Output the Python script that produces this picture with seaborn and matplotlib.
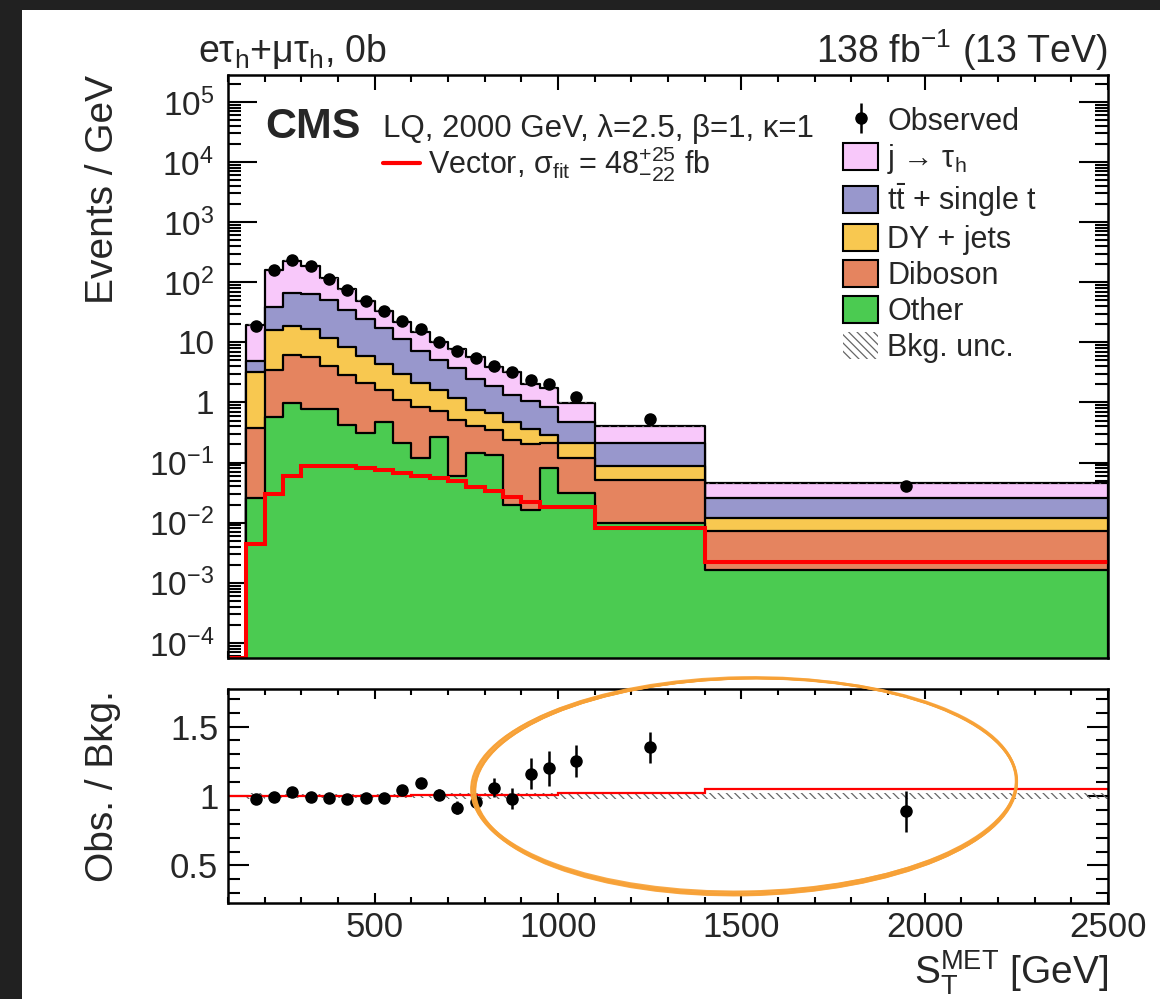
import numpy as np
import pandas as pd
import matplotlib
matplotlib.use("Agg")
import matplotlib.pyplot as plt
import seaborn as sns
from matplotlib.patches import Patch, Ellipse, Rectangle
from matplotlib.ticker import (FixedLocator, FixedFormatter, MultipleLocator,
                               LogLocator, NullFormatter)

# ---------------------------------------------------------------- data
# S_T^MET binning [GeV]
bin_edges = [100, 150, 200, 250, 300, 350, 400, 450, 500, 550, 600, 650,
             700, 750, 800, 850, 900, 950, 1000, 1100, 1400, 2500]

# background yields, events / GeV
other = [0, 0.026, 0.58, 0.98, 0.78, 0.78, 0.42, 0.31, 0.48, 0.21, 0.118,
         0.27, 0.059, 0.145, 0.135, 0.020, 0.016, 0.081, 0.031, 0.010, 0.0016]
diboson = [0, 0.354, 2.92, 5.22, 5.02, 3.22, 2.48, 1.79, 1.12, 0.89, 0.73,
           0.45, 0.451, 0.255, 0.215, 0.22, 0.184, 0.13, 0.086, 0.042, 0.0056]
dy_jets = [0, 2.82, 12.5, 12.5, 10.8, 7.7, 5.3, 3.9, 2.8, 1.9, 1.25,
           0.9, 0.66, 0.36, 0.31, 0.24, 0.16, 0.08, 0.093, 0.035, 0.0048]
ttbar = [0, 1.6, 22, 47.3, 47.4, 39.3, 26.8, 18, 12.6, 8.5, 5.2,
         3.48, 2.53, 1.74, 1.19, 0.87, 0.69, 0.56, 0.27, 0.123, 0.014]
jet_fake = [0, 14.6, 123, 162, 123, 66, 41.5, 25.6, 16.4, 10.6, 7.8,
            5.1, 4.0, 3.2, 1.99, 1.87, 1.01, 0.86, 0.50, 0.19, 0.019]

# relative background uncertainty
bkg_unc = [0, 0.02, 0.015, 0.015, 0.015, 0.015, 0.015, 0.015, 0.015, 0.015,
           0.015, 0.015, 0.02, 0.02, 0.02, 0.02, 0.02, 0.02, 0.02, 0.02, 0.02]

# observed data, events / GeV
observed = [np.nan, 19.0, 160, 235, 185, 115, 75, 49, 33, 23, 16.5, 10.3,
            7.05, 5.46, 4.07, 3.16, 2.39, 2.05, 1.23, 0.54, 0.040]
# statistical error on Obs./Bkg.
ratio_err = [np.nan, 0.025, 0.012, 0.012, 0.012, 0.015, 0.018, 0.02, 0.025,
             0.03, 0.035, 0.04, 0.045, 0.05, 0.07, 0.075, 0.11, 0.125,
             0.115, 0.11, 0.15]

# vector LQ signal (2000 GeV), events / GeV
signal = [0, 0.0044, 0.030, 0.060, 0.088, 0.088, 0.088, 0.082, 0.074, 0.066,
          0.060, 0.056, 0.050, 0.039, 0.033, 0.027, 0.022, 0.018, 0.018,
          0.0081, 0.0022]

process_labels = ["Other", "Diboson", "DY + jets",
                  r"$\mathrm{t\bar{t}}$ + single t", r"j → $\mathrm{τ_h}$"]
process_colors = ["#4bcb51", "#e5845f", "#f8c850", "#9897cc", "#f8c8fa"]

# ---------------------------------------------------------------- style
sns.set_theme(style="ticks")
plt.rcParams["font.family"] = ["Liberation Sans", "DejaVu Sans"]
plt.rcParams.update({
    "mathtext.fontset": "custom",
    "mathtext.rm": "Liberation Sans",
    "mathtext.it": "Liberation Sans:italic",
    "mathtext.bf": "Liberation Sans:bold",
    "axes.linewidth": 1.8,
    "axes.edgecolor": "black",
    "hatch.color": "#666666",
    "hatch.linewidth": 0.9,
})

W, H = 1160, 999
fig = plt.figure(figsize=(W / 100, H / 100), dpi=100)
fig.patch.set_facecolor("white")


def px_box(x0, y0, x1, y1):
    return [x0 / W, 1 - y1 / H, (x1 - x0) / W, (y1 - y0) / H]


ax = fig.add_axes(px_box(228, 75, 1108, 658))
rax = fig.add_axes(px_box(228, 689, 1108, 903))

edges = np.array(bin_edges, dtype=float)
centers = 0.5 * (edges[:-1] + edges[1:])
stack = np.cumsum(np.array([other, diboson, dy_jets, ttbar, jet_fake]), axis=0)
total = stack[-1]
ymin, ymax = 5.6e-5, 2.8e5

# ---------------------------------------------------------------- main panel
ax.set_yscale("log")
for i in reversed(range(len(process_labels))):
    layer = pd.DataFrame({"st": centers, "yield": stack[i]})
    sns.histplot(data=layer, x="st", weights="yield", bins=list(bin_edges),
                 element="step", fill=True, color=process_colors[i], alpha=1,
                 edgecolor="black", linewidth=1.6, ax=ax,
                 zorder=2 + 0.1 * (5 - i))

unc = np.array(bkg_unc)
lo = total * (1 - unc)
hi = total * (1 + unc)
ax.fill_between(edges, np.r_[lo, lo[-1]], np.r_[hi, hi[-1]], step="post",
                facecolor="none", edgecolor="#666666", hatch="\\\\\\\\",
                linewidth=0, zorder=3)

ax.stairs(np.clip(np.array(signal), ymin, None), edges, baseline=None,
          color="red", linewidth=2.9, zorder=4)

obs = np.array(observed)
rerr = np.array(ratio_err)
obs_handle = ax.errorbar(centers, obs, yerr=rerr * total, fmt="o",
                         color="black", markersize=8, elinewidth=1.8,
                         capsize=0, zorder=6)

ax.set_xlim(100, 2500)
ax.set_ylim(ymin, ymax)
ax.set_xlabel("")
ax.set_ylabel("")
major_y = [1e-4, 1e-3, 1e-2, 1e-1, 1, 10, 1e2, 1e3, 1e4, 1e5]
major_y_lbl = [r"$10^{-4}$", r"$10^{-3}$", r"$10^{-2}$", r"$10^{-1}$", "1",
               "10", r"$10^{2}$", r"$10^{3}$", r"$10^{4}$", r"$10^{5}$"]
ax.yaxis.set_major_locator(FixedLocator(major_y))
ax.yaxis.set_major_formatter(FixedFormatter(major_y_lbl))
ax.yaxis.set_minor_locator(LogLocator(base=10, subs=np.arange(2, 10), numticks=30))
ax.yaxis.set_minor_formatter(NullFormatter())
ax.xaxis.set_major_locator(MultipleLocator(500))
ax.xaxis.set_minor_locator(MultipleLocator(100))
ax.tick_params(which="both", direction="in", top=True, right=True,
               labelbottom=False, width=1.5, color="black")
ax.tick_params(axis="y", which="major", length=21, labelsize=24, pad=10)
ax.tick_params(axis="y", which="minor", length=9.5)
ax.tick_params(axis="x", which="major", length=11)
ax.tick_params(axis="x", which="minor", length=5)
for s in ax.spines.values():
    s.set_visible(True)
    s.set_zorder(10)

leg = ax.legend(
    [obs_handle] + [Patch(facecolor=c, edgecolor="black", linewidth=1.5)
                    for c in process_colors[::-1]]
    + [Patch(facecolor="none", edgecolor="#666666", hatch="\\\\\\\\", linewidth=0)],
    ["Observed"] + process_labels[::-1] + ["Bkg. unc."],
    loc="upper left", bbox_to_anchor=(843 / W, 1 - 106 / H),
    bbox_transform=fig.transFigure, frameon=False, fontsize=22,
    handlelength=1.15, handleheight=1.0, handletextpad=0.3,
    labelspacing=0.16, borderpad=0, borderaxespad=0)

# ---------------------------------------------------------------- ratio panel
ratio = obs / np.where(total > 0, total, np.nan)
sig_ratio = np.where(total > 0, 1 + np.array(signal) / np.where(total > 0, total, 1), 1.0)

rax.fill_between(edges, np.r_[1 - unc, 1 - unc[-1]], np.r_[1 + unc, 1 + unc[-1]],
                 step="post", facecolor="none", edgecolor="#666666",
                 hatch="\\\\\\\\", linewidth=0, zorder=2)
rax.stairs(sig_ratio, edges, baseline=None, color="red", linewidth=1.6, zorder=3)
rax.errorbar(centers, ratio, yerr=rerr, fmt="o", color="black", markersize=8,
             elinewidth=1.8, capsize=0, zorder=5)

rax.set_xlim(100, 2500)
rax.set_ylim(0.23, 1.77)
rax.yaxis.set_major_locator(FixedLocator([0.5, 1.0, 1.5]))
rax.yaxis.set_major_formatter(FixedFormatter(["0.5", "1", "1.5"]))
rax.yaxis.set_minor_locator(MultipleLocator(0.1))
rax.xaxis.set_major_locator(MultipleLocator(500))
rax.xaxis.set_minor_locator(MultipleLocator(100))
rax.tick_params(which="both", direction="in", top=True, right=True,
                width=1.5, color="black")
rax.tick_params(axis="y", which="major", length=15, labelsize=25, pad=7)
rax.tick_params(axis="y", which="minor", length=8.5)
rax.tick_params(axis="x", which="major", length=7.5, labelsize=25, pad=6)
rax.tick_params(axis="x", which="minor", length=4)
for s in rax.spines.values():
    s.set_visible(True)
    s.set_zorder(10)

# ---------------------------------------------------------------- text layer
ov = fig.add_axes([0, 0, 1, 1])
ov.set_xlim(0, W)
ov.set_ylim(H, 0)
ov.axis("off")
ov.patch.set_alpha(0)

ov.add_patch(Rectangle((0, 0), W, 10, color="#212121", lw=0))
ov.add_patch(Rectangle((0, 0), 22, H, color="#212121", lw=0))

ov.text(198, 62, r"e$\mathrm{τ_h}$+$\mathrm{μτ_h}$, 0b", fontsize=27,
        ha="left", va="baseline")
ov.text(1108, 63, r"138 fb$^{-1}$ (13 TeV)", fontsize=27, ha="right",
        va="baseline")
ov.text(265, 138, "CMS", fontsize=31, fontweight="bold", ha="left", va="baseline")
ov.text(383, 137, "LQ, 2000 GeV, λ=2.5, β=1, κ=1", fontsize=22.5, ha="left",
        va="baseline")
ov.plot([383, 420], [163, 163], color="red", lw=3)
ov.text(428, 174, r"Vector, $\mathrm{σ_{fit}}$ = 48$^{+25}_{-22}$ fb",
        fontsize=22, ha="left", va="baseline")

ov.text(103, 75, "Events / GeV", rotation=90, fontsize=28, ha="center", va="top")
ov.text(103, 690, "Obs. / Bkg.", rotation=90, fontsize=28, ha="center", va="top")
ov.text(1108, 984, r"$\mathrm{S_T^{MET}}$ [GeV]", fontsize=28, ha="right",
        va="baseline")

# hand-drawn highlight around the high-S_T region of the ratio
strokes = [(0, 0, 0, 0, -1.0, 1.6), (1, 1, -2, 2, -1.2, 1.3),
           (-1, 1, 2, 3, -0.8, 1.3), (1, 0, -3, 1, -1.4, 1.1),
           (0, 2, -1, 4, -1.1, 1.2), (-1, 1, 1, 5, -0.9, 1.2),
           (0, 1, -3, 2, -1.3, 1.0)]
for dx, dy, dw, dh, ang, lw in strokes:
    ov.add_patch(Ellipse((745 + dx, 785 + dy), 544 + dw, 213 + dh, angle=ang,
                         fill=False, edgecolor="#f7a136", lw=lw, alpha=0.9))

fig.savefig("out.png", dpi=100)
